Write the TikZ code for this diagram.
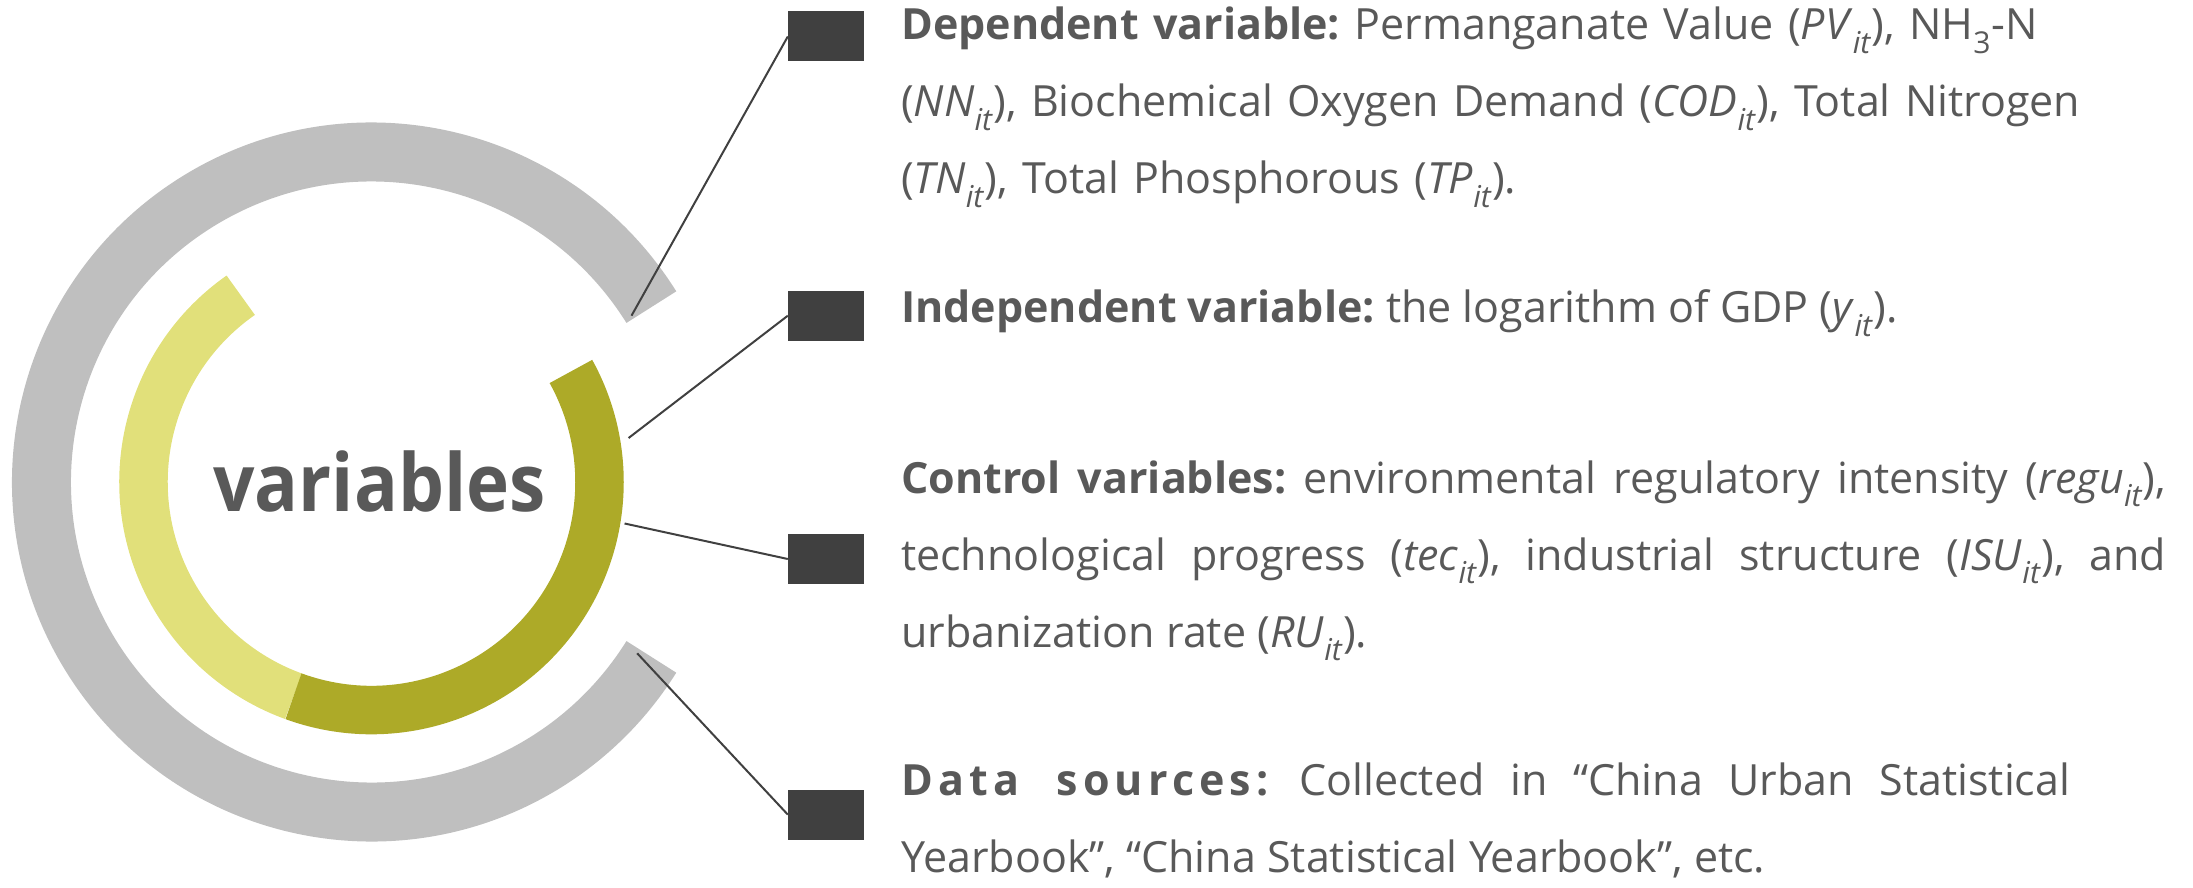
\documentclass[tikz,border=0pt]{standalone}
\usepackage{fontspec}
\setmainfont{Open Sans}
\frenchspacing
\definecolor{ringgray}{HTML}{BFBFBF}
\definecolor{lightolive}{HTML}{E1E07A}
\definecolor{darkolive}{HTML}{ADAA28}
\definecolor{boxgray}{HTML}{404040}
\definecolor{txtgray}{HTML}{595959}
\newfontfamily\titlefont[FakeStretch=0.91]{Open Sans}
\tikzset{
ring/.style={line width=59pt, ringgray},
inner ring/.style={line width=48.5pt},
marker/.style={fill=boxgray, minimum width=76pt, minimum height=50pt, inner sep=0pt},
leader/.style={draw=boxgray, line width=2pt},
desc/.style={anchor=base west, inner sep=0pt, text=txtgray,
	font=\fontsize{43}{77}\selectfont}
}
\newcommand{\varit}[1]{\textit{#1}\textsubscript{\textit{it}}}

\begin{document}
\begin{tikzpicture}[x=1pt, y=1pt]
	\useasboundingbox (0,0) rectangle (2193,-888);
	\coordinate (c) at (371.5,-482);
	\draw[ring] (c) ++(32:330) arc[start angle=32, end angle=328, radius=330];
	\draw[inner ring, lightolive] (c) ++(125:228) arc[start angle=125, end angle=250, radius=228];
	\draw[inner ring, darkolive] (c) ++(250:228) arc[start angle=250, end angle=389, radius=228];
	\node[anchor=base, inner sep=0pt, text=txtgray, font=\titlefont\bfseries\fontsize{80}{80}\selectfont]
		(title) at (379.5,-511) {variables};

	\node[marker] (m1) at (826,-36.5) {};
	\node[marker] (m2) at (826,-315.7) {};
	\node[marker] (m3) at (826,-559) {};
	\node[marker] (m4) at (826,-814.6) {};
	\coordinate (e1) at (631.5,-315.7);
	\coordinate (e2) at (628.6,-438);
	\coordinate (e3) at (624.6,-523.5);
	\coordinate (e4) at (637.2,-653.3);
	\draw[leader] (e1) -- (m1.west);
	\draw[leader] (e2) -- (m2.west);
	\draw[leader] (e3) -- (m3.west);
	\draw[leader] (e4) -- (m4.west);

	\node[desc, text width=1300pt, align=left] (dep) at (901,-40) {%
		\textbf{Dependent variable:} Permanganate Value (\varit{PV}), NH\textsubscript{3}-N\\
		(\varit{NN}), Biochemical Oxygen Demand (\varit{COD}), Total Nitrogen\\
		(\varit{TN}), Total Phosphorous (\varit{TP}).};
	\node[desc] (ind) at (901,-322.5) {%
		\textbf{Independent variable:} the logarithm of GDP (\varit{y}).};
	\node[desc, text width=1265pt, align=justify] (ctl) at (901,-493) {%
		\textbf{Control variables:} environmental regulatory intensity (\varit{regu}),\linebreak
		technological progress (\varit{tec}), industrial structure (\varit{ISU}), and\linebreak
		urbanization rate (\varit{RU}).};
	\node[desc, text width=1169pt, align=justify] (src) at (901,-795) {%
		\textbf{\addfontfeature{LetterSpace=12}Data sources:} Collected in “China Urban Statistical\linebreak
		Yearbook”, “China Statistical Yearbook”, etc.};
\end{tikzpicture}
\end{document}
